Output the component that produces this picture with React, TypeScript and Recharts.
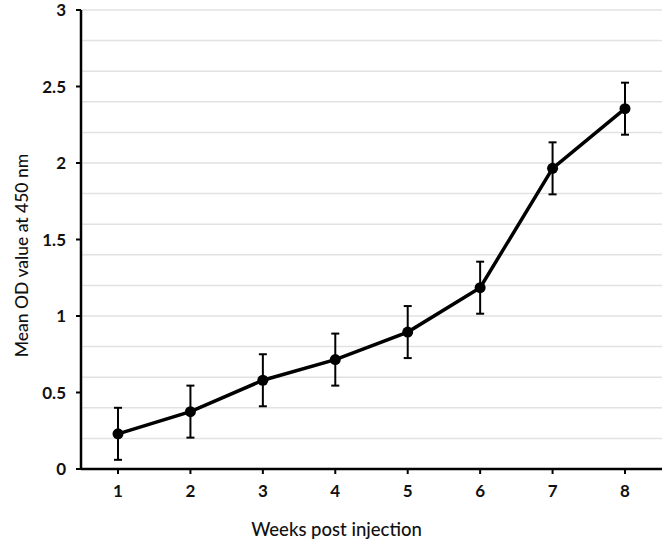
import React from "react";
import {
  LineChart,
  Line,
  XAxis,
  YAxis,
  CartesianGrid,
  ErrorBar,
  Label,
} from "recharts";

// Weeks after injection and mean OD readings (± error)
const weeks = ["1", "2", "3", "4", "5", "6", "7", "8"];
const meanOD = [0.23, 0.375, 0.58, 0.715, 0.895, 1.185, 1.965, 2.355];
const errorOD = [0.17, 0.17, 0.17, 0.17, 0.17, 0.17, 0.17, 0.17];

const yTicks = [0, 0.5, 1, 1.5, 2, 2.5, 3];
const gridTicks = [
  0.1, 0.2, 0.3, 0.4, 0.5, 0.6, 0.7, 0.8, 0.9, 1, 1.1, 1.2, 1.3, 1.4, 1.5,
  1.6, 1.7, 1.8, 1.9, 2, 2.1, 2.2, 2.3, 2.4, 2.5, 2.6, 2.7, 2.8, 2.9, 3,
];

const data = weeks.map((w, i) => ({ week: w, od: meanOD[i], err: errorOD[i] }));

const font = "Lato, 'Open Sans', sans-serif";
const tickStyle = { fontSize: 17, fill: "#111", fontFamily: font, fontWeight: 700 };
const titleStyle = { fontSize: 18.5, fill: "#111", fontFamily: font, fontWeight: 500 };

// rotated y title, sitting a little below the middle of the plot like the original
function YTitle({ viewBox }: any) {
  const cx = 21;
  const cy = viewBox.y + viewBox.height / 2 + 16;
  return (
    <text
      x={cx}
      y={cy}
      transform={`rotate(-90, ${cx}, ${cy})`}
      textAnchor="middle"
      dominantBaseline="central"
      style={{ ...titleStyle, fontSize: 17.5 }}
    >
      Mean OD value at 450 nm
    </text>
  );
}

export default function App() {
  return (
    <div style={{ position: "absolute", left: 0, top: 0, background: "#fff" }}>
      <LineChart
        width={669}
        height={546}
        data={data}
        margin={{ top: 10, right: 7, left: 0, bottom: 0 }}
      >
        <CartesianGrid
          vertical={false}
          horizontalValues={gridTicks}
          stroke="#e2e2e2"
          strokeWidth={1.5}
        />
        <XAxis
          dataKey="week"
          height={77}
          padding={{ left: 37, right: 37 }}
          tickSize={5}
          tickMargin={11}
          tick={tickStyle}
          axisLine={{ stroke: "#000", strokeWidth: 2.5 }}
          tickLine={{ stroke: "#000", strokeWidth: 2 }}
          label={{
            value: "Weeks post injection",
            position: "insideBottom",
            offset: 10,
            dx: -35,
            style: titleStyle,
          }}
        />
        <YAxis
          width={81}
          domain={[0, 3]}
          ticks={yTicks}
          type="number"
          tickSize={5}
          tickMargin={10}
          tick={tickStyle}
          axisLine={{ stroke: "#000", strokeWidth: 2.5 }}
          tickLine={{ stroke: "#000", strokeWidth: 2 }}
        >
          <Label content={<YTitle />} />
        </YAxis>
        <Line
          type="linear"
          dataKey="od"
          stroke="#000"
          strokeWidth={3.5}
          dot={{ r: 5.5, fill: "#000", stroke: "#000", strokeWidth: 0 }}
          activeDot={false}
          isAnimationActive={false}
        >
          <ErrorBar
            dataKey="err"
            direction="y"
            width={4}
            stroke="#000"
            strokeWidth={2}
            isAnimationActive={false}
          />
        </Line>
      </LineChart>
    </div>
  );
}
